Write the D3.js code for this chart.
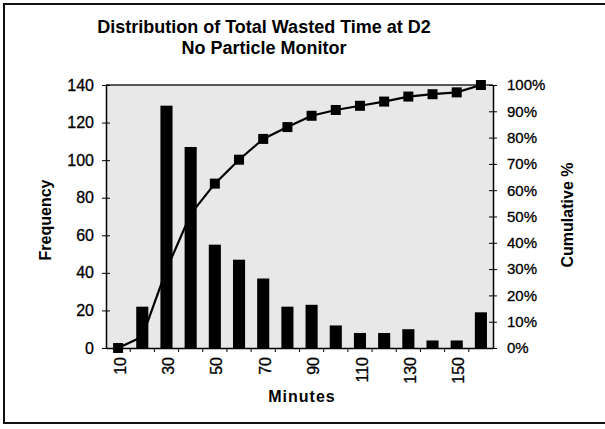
<!DOCTYPE html>
<html>
<head>
<meta charset="utf-8">
<script src="https://cdn.jsdelivr.net/npm/d3@7"></script>
<style>
  body { margin: 0; background: #fff; }
  svg text { font-family: "Liberation Sans", Arial, sans-serif; fill: #000; }
  .tick text { stroke: #000; stroke-width: 0.3px; }
</style>
</head>
<body>
<div id="chart"></div>
<script>
const minutes = ["10", "20", "30", "40", "50", "60", "70", "80", "90", "100", "110", "120", "130", "140", "150", "160"]
const frequency = [0, 22, 129, 107, 55, 47, 37, 22, 23, 12, 8, 8, 10, 4, 4, 19]
const cumulative = [0, 0.043, 0.298, 0.509, 0.625, 0.716, 0.795, 0.84, 0.883, 0.905, 0.921, 0.937, 0.956, 0.965, 0.972, 1]
const freqTicks = [0, 20, 40, 60, 80, 100, 120, 140]
const pctTicks = [0, 0.1, 0.2, 0.3, 0.4, 0.5, 0.6, 0.7, 0.8, 0.9, 1]

const width = 605
const height = 429
const plot = { left: 106, right: 493, top: 85, bottom: 348 }

const svg = d3.select("#chart")
    .append("svg")
    .attr("width", width)
    .attr("height", height)

// outer frame
svg.append("rect")
    .attr("x", 4).attr("y", 4)
    .attr("width", 606).attr("height", 419)
    .attr("fill", "none")
    .attr("stroke", "#111")
    .attr("stroke-width", 2)

const x = d3.scaleBand()
    .domain(minutes)
    .range([plot.left, plot.right])
    .paddingInner(0.5)
    .paddingOuter(0.25)

const y = d3.scaleLinear().domain([0, 140]).range([plot.bottom, plot.top])
const y2 = d3.scaleLinear().domain([0, 1]).range([plot.bottom, plot.top])

// plot area background
svg.append("rect")
    .attr("x", plot.left).attr("y", plot.top)
    .attr("width", plot.right - plot.left)
    .attr("height", plot.bottom - plot.top)
    .attr("fill", "#e8e8e8")

svg.append("line")
    .attr("x1", plot.left).attr("x2", plot.right)
    .attr("y1", plot.top).attr("y2", plot.top)
    .attr("stroke", "#222").attr("stroke-width", 1.5)

// bars
svg.selectAll(".bar")
    .data(frequency)
    .enter()
    .append("rect")
    .attr("class", "bar")
    .attr("x", (d, i) => x(minutes[i]))
    .attr("width", x.bandwidth())
    .attr("y", d => y(d))
    .attr("height", d => y(0) - y(d))
    .attr("fill", "#000")

// cumulative line
const cx = (d, i) => x(minutes[i]) + x.bandwidth() / 2
const line = d3.line()
    .x(cx)
    .y(d => y2(d))

svg.append("path")
    .datum(cumulative)
    .attr("d", line)
    .attr("fill", "none")
    .attr("stroke", "#000")
    .attr("stroke-width", 2.2)

svg.selectAll(".marker")
    .data(cumulative)
    .enter()
    .append("rect")
    .attr("class", "marker")
    .attr("x", (d, i) => cx(d, i) - 5)
    .attr("y", d => y2(d) - 5)
    .attr("width", 10)
    .attr("height", 10)
    .attr("fill", "#000")

// left axis
const leftAxis = svg.append("g")
    .attr("transform", "translate(" + plot.left + ",0)")
    .call(d3.axisLeft(y).tickValues(freqTicks).tickSizeInner(4).tickSizeOuter(0).tickPadding(8))
leftAxis.selectAll("text").style("font-size", "16px")

// right axis
const rightAxis = svg.append("g")
    .attr("transform", "translate(" + plot.right + ",0)")
    .call(d3.axisRight(y2).tickValues(pctTicks).tickFormat(d3.format(".0%")).tickSizeInner(4).tickSizeOuter(0).tickPadding(10))
rightAxis.selectAll("text").style("font-size", "15px")

// bottom axis
const bottomAxis = svg.append("g")
    .attr("transform", "translate(0," + plot.bottom + ")")
    .call(d3.axisBottom(x).tickSize(0).tickFormat((d, i) => i % 2 === 0 ? d : ""))
bottomAxis.selectAll("text")
    .style("font-size", "16px")
    .attr("text-anchor", "end")
    .attr("transform", "rotate(-90)")
    .attr("x", -9)
    .attr("y", 2)
    .attr("dy", "0.35em")

// tick marks between categories
const bounds = minutes.slice(1).map(m => x(m) - x.step() * x.paddingInner() / 2)
svg.selectAll(".xtick")
    .data(bounds)
    .enter()
    .append("line")
    .attr("x1", d => d).attr("x2", d => d)
    .attr("y1", plot.bottom).attr("y2", plot.bottom + 4)
    .attr("stroke", "#000")

svg.selectAll("path.domain").attr("stroke", "#000").attr("stroke-width", 1.5)
leftAxis.selectAll(".tick line").attr("x1", 4)
rightAxis.selectAll(".tick line").attr("x1", -4)

// titles
svg.append("text")
    .attr("x", 264).attr("y", 33)
    .attr("text-anchor", "middle")
    .style("font-size", "18px").style("font-weight", "bold")
    .text("Distribution of Total Wasted Time at D2")
svg.append("text")
    .attr("x", 264).attr("y", 54)
    .attr("text-anchor", "middle")
    .style("font-size", "18px").style("font-weight", "bold")
    .text("No Particle Monitor")

svg.append("text")
    .attr("transform", "translate(51,220) rotate(-90)")
    .attr("text-anchor", "middle")
    .style("font-size", "16px").style("font-weight", "bold")
    .text("Frequency")

svg.append("text")
    .attr("transform", "translate(573,215) rotate(-90)")
    .attr("text-anchor", "middle")
    .style("font-size", "16px").style("font-weight", "bold")
    .text("Cumulative %")

svg.append("text")
    .attr("x", 302).attr("y", 402)
    .attr("text-anchor", "middle")
    .style("font-size", "16px").style("font-weight", "bold")
    .style("letter-spacing", "1px")
    .text("Minutes")
</script>
</body>
</html>
